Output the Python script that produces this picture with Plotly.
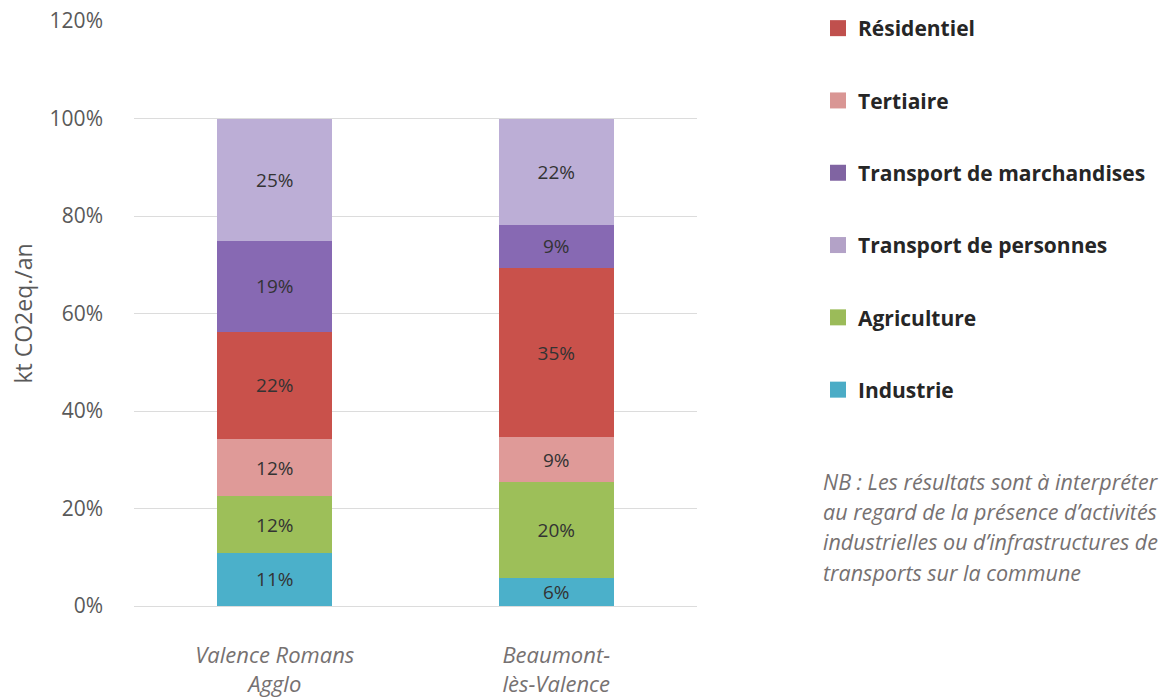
import plotly.graph_objects as go

territories = ["Valence Romans<br>Agglo", "Beaumont-<br>lès-Valence"]

# shares (%) per sector, stacked from bottom to top
industrie = [10.9, 5.7]
agriculture = [11.6, 19.8]
tertiaire = [11.7, 9.1]
residentiel = [22.1, 34.7]
marchandises = [18.6, 8.9]
personnes = [25.1, 21.8]

note_lines = [
    "NB : Les résultats sont à interpréter",
    "au regard de la présence d’activités",
    "industrielles ou d’infrastructures de",
    "transports sur la commune",
]

# name, values, bar colour, legend colour, legend rank
series = [
    ("Industrie", industrie, "#4bb0ca", "#4bacc6", 6),
    ("Agriculture", agriculture, "#9dbf59", "#9bbb59", 5),
    ("Tertiaire", tertiaire, "#df9a98", "#d99694", 2),
    ("Résidentiel", residentiel, "#c9514b", "#c0504d", 1),
    ("Transport de marchandises", marchandises, "#8769b3", "#8064a2", 3),
    ("Transport de personnes", personnes, "#bcaed6", "#b3a2c7", 4),
]

FONT = "Open Sans"

fig = go.Figure()
for name, vals, color, lcolor, rank in series:
    fig.add_trace(go.Bar(
        x=territories, y=vals, name=name, showlegend=False,
        marker=dict(color=color, line=dict(width=0)),
        texttemplate="%{y:.0f}%",
        textposition="inside", insidetextanchor="middle", textangle=0,
        constraintext="none",
        textfont=dict(family=FONT, size=19, color="#333333"),
        hoverinfo="name+y",
    ))
    # legend entry (square swatch)
    fig.add_trace(go.Scatter(
        x=[None], y=[None], mode="markers", name=name,
        marker=dict(symbol="square", size=16, color=lcolor, line=dict(width=0)),
        legendgroup=name, legendrank=rank, hoverinfo="skip",
    ))

PL, PR, PT, PB = 134, 697, 21, 606
W, H = 1165, 698
pw, ph = PR - PL, PB - PT

fig.update_layout(
    barmode="stack",
    bargap=0.59,
    width=W, height=H,
    margin=dict(l=PL, r=W - PR, t=PT, b=H - PB, autoexpand=False),
    paper_bgcolor="white", plot_bgcolor="white",
    font=dict(family=FONT, color="#595959"),
    legend=dict(
        x=(818 - PL) / pw, y=(PB - 8) / ph, xanchor="left", yanchor="top",
        font=dict(family=FONT, size=21, color="#262626", weight="bold"),
        tracegroupgap=42, itemclick=False, itemsizing="trace",
        maxheight=680,
    ),
    yaxis=dict(
        range=[0, 120], dtick=20, ticksuffix="%",
        showgrid=True, gridcolor="#dcdcdc", gridwidth=1,
        zeroline=True, zerolinecolor="#dcdcdc", zerolinewidth=1,
        showline=False, automargin=False,
        tickfont=dict(family=FONT, size=21, color="#595959"),
        ticklabelstandoff=30,
        title=dict(text="kt CO2eq./an", font=dict(family=FONT, size=23, color="#595959"), standoff=10),
    ),
    xaxis=dict(
        showline=False, showgrid=False, automargin=False,
        tickfont=dict(family=FONT, size=22, color="#767171", style="italic"),
        ticklabelstandoff=34,
    ),
)

for i, line in enumerate(note_lines):
    fig.add_annotation(
        xref="paper", yref="paper", x=(821 - PL) / pw, y=(PB - (481 + 30.4 * i)) / ph,
        xanchor="left", yanchor="middle", align="left", showarrow=False,
        text=line,
        font=dict(family=FONT, size=21.5, color="#767171", style="italic"),
    )

fig.write_html("out.html")
